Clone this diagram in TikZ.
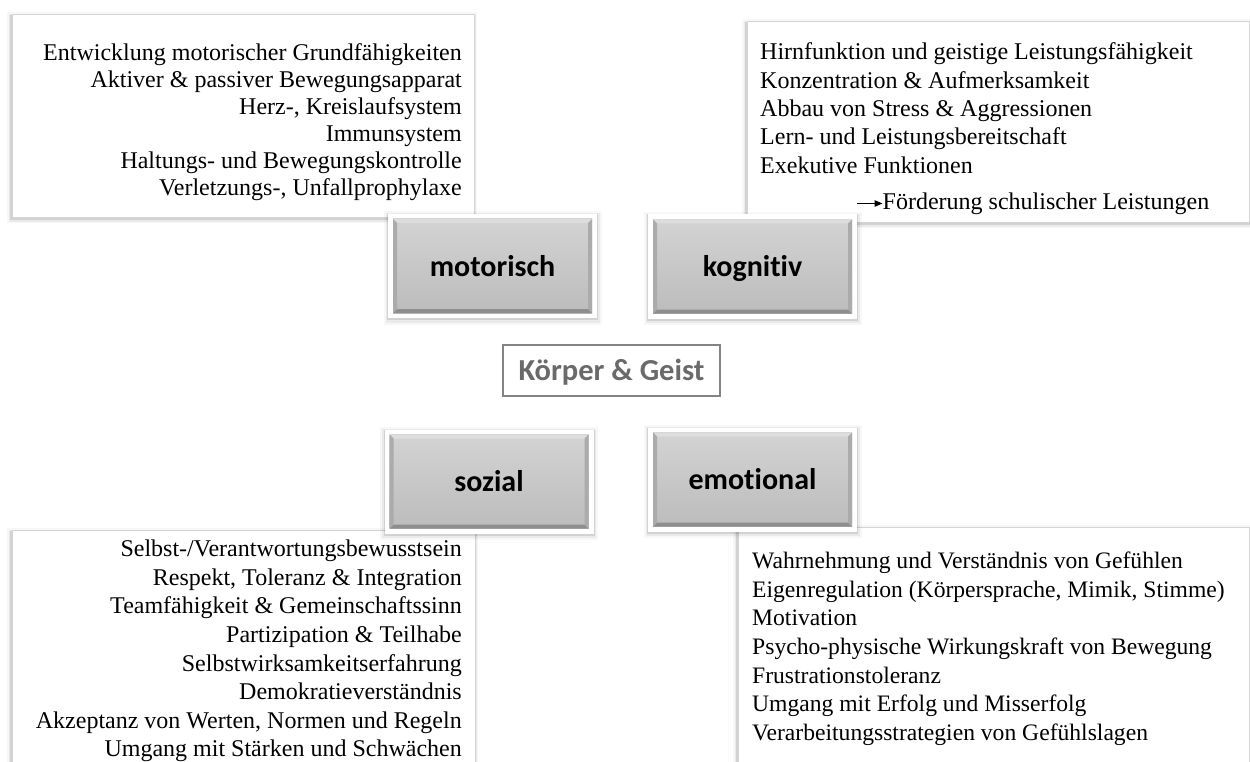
\documentclass[tikz,border=0pt]{standalone}
\usepackage{fontspec}
\setmainfont{Liberation Serif}
\newfontfamily\labelfont{Carlito}[Ligatures=NoCommon]
\usetikzlibrary{calc,arrows.meta}
\definecolor{gtop}{HTML}{D3D3D3}
\definecolor{gbot}{HTML}{BCBCBC}
\definecolor{gbevtop}{HTML}{DDDDDD}
\definecolor{gbevbot}{HTML}{8E8E8E}
\definecolor{gbevside}{HTML}{ABABAB}
\definecolor{framegray}{HTML}{848484}
\definecolor{labelgray}{HTML}{6A6A6A}
\definecolor{textboxline}{HTML}{D4D4D4}
\tikzset{
  textbox/.style={rectangle, anchor=north west, inner sep=0, fill=white,
    draw=textboxline, line width=0.6,
    preaction={draw=black, line width=8, opacity=0.03, transform canvas={xshift=-1pt,yshift=-2pt}},
    preaction={draw=black, line width=5, opacity=0.05, transform canvas={xshift=-1pt,yshift=-2pt}},
    preaction={draw=black, line width=2.5, opacity=0.10, transform canvas={xshift=-1pt,yshift=-1.5pt}}},
  bodytext/.style={inner sep=0, font=\fontsize{24}{28.6}\selectfont},
  graybox/.style={rectangle, minimum width=209, minimum height=104, inner sep=0,
    fill=white, text=black, text height=24, text depth=4,
    font=\labelfont\bfseries\fontsize{30}{36}\selectfont,
    preaction={draw=black, line width=9, opacity=0.03, transform canvas={yshift=-2pt}},
    preaction={draw=black, line width=5, opacity=0.05, transform canvas={yshift=-2pt}},
    preaction={draw=black, line width=2, opacity=0.10, transform canvas={yshift=-1pt}},
    path picture={
      \coordinate (pnw) at ([shift={(5,5)}]path picture bounding box.north west);
      \coordinate (pse) at ([shift={(-5,-5)}]path picture bounding box.south east);
      \coordinate (pne) at (pse |- pnw);
      \coordinate (psw) at (pnw |- pse);
      \shade[top color=gtop, bottom color=gbot] (pnw) rectangle (pse);
      \fill[gbevtop] (pnw) -- (pne) -- ($(pne)+(-4,4)$) -- ($(pnw)+(4,4)$) -- cycle;
      \fill[gbevbot] (psw) -- (pse) -- ($(pse)+(-4,-4)$) -- ($(psw)+(4,-4)$) -- cycle;
      \fill[gbevside] (pnw) -- ($(pnw)+(4,4)$) -- ($(psw)+(4,-4)$) -- (psw) -- cycle;
      \fill[gbevside] (pne) -- ($(pne)+(-4,4)$) -- ($(pse)+(-4,-4)$) -- (pse) -- cycle;
    }},
  centerbox/.style={rectangle, minimum width=217, minimum height=51, inner sep=0,
    fill=white, draw=framegray, line width=2, text=labelgray,
    text height=24, text depth=4,
    font=\labelfont\bfseries\fontsize{30.5}{36}\selectfont},
  pointer/.style={line width=1.1, -{Triangle[length=8pt,width=6.5pt]}}
}
\begin{document}
\begin{tikzpicture}[x=1pt,y=-1pt]
\useasboundingbox (0,0) rectangle (1250,762);
\clip (0,0) rectangle (1250,762);
% text boxes
\node[textbox, minimum width=462, minimum height=203] (tlbox) at (12,14) {};
\node[textbox, minimum width=502, minimum height=201] (trbox) at (747,21) {};
\node[textbox, minimum width=463, minimum height=280] (blbox) at (12,530) {};
\node[textbox, minimum width=511, minimum height=280] (brbox) at (738,527) {};
% texts
\node[bodytext, anchor=base east, font=\fontsize{24}{26.9}\selectfont] (tltext) at (462,60.7) {\begin{tabular}[t]{@{}r@{}}
Entwicklung motorischer Grundfähigkeiten\\
Aktiver \& passiver Bewegungsapparat\\
Herz-, Kreislaufsystem\\
Immunsystem\\
Haltungs- und Bewegungskontrolle\\
Verletzungs-, Unfallprophylaxe
\end{tabular}};
\node[bodytext, anchor=base west, font=\fontsize{24}{28.3}\selectfont] (trtext) at (760,60) {\begin{tabular}[t]{@{}l@{}}
Hirnfunktion und geistige Leistungsfähigkeit\\
Konzentration \& Aufmerksamkeit\\
Abbau von Stress \& Aggressionen\\
Lern- und Leistungsbereitschaft\\
Exekutive Funktionen
\end{tabular}};
\node[bodytext, anchor=base west] (trarrow) at (882.5,210) {Förderung schulischer Leistungen};
\coordinate (arrowtail) at (857,203.5);
\draw[pointer] (arrowtail) -- (trarrow.west |- arrowtail);
\node[bodytext, anchor=base east, font=\fontsize{24}{28.6}\selectfont] (bltext) at (462,556.7) {\begin{tabular}[t]{@{}r@{}}
Selbst-/Verantwortungsbewusstsein\\
Respekt, Toleranz \& Integration\\
Teamfähigkeit \& Gemeinschaftssinn\\
Partizipation \& Teilhabe\\
Selbstwirksamkeitserfahrung\\
Demokratieverständnis\\
Akzeptanz von Werten, Normen und Regeln\\
Umgang mit Stärken und Schwächen
\end{tabular}};
\node[bodytext, anchor=base west, font=\fontsize{23.6}{28.7}\selectfont] (brtext) at (752,568.3) {\begin{tabular}[t]{@{}l@{}}
Wahrnehmung und Verständnis von Gefühlen\\
Eigenregulation (Körpersprache, Mimik, Stimme)\\
Motivation\\
Psycho-physische Wirkungskraft von Bewegung\\
Frustrationstoleranz\\
Umgang mit Erfolg und Misserfolg\\
Verarbeitungsstrategien von Gefühlslagen
\end{tabular}};
% category boxes
\node[graybox] (mot) at (492.5,266) {motorisch};
\node[graybox] (kog) at (752.5,266.5) {kognitiv};
\node[graybox] (soz) at (489,481.5) {sozial};
\node[graybox] (emo) at (752.5,479.5) {emotional};
% centre
\node[centerbox] (center) at (611.5,370.5) {Körper \& Geist};
\end{tikzpicture}
\end{document}
